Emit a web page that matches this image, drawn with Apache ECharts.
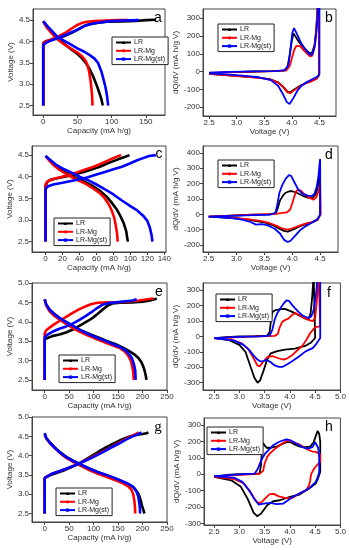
<!DOCTYPE html>
<html><head><meta charset="utf-8">
<script src="https://cdn.jsdelivr.net/npm/echarts@6/dist/echarts.min.js"></script>
<style>html,body{margin:0;padding:0;background:#fff}#c{width:349px;height:550px}</style>
</head><body><div id="c"></div>
<script>
// ---------- DATA ----------
const names = ['LR', 'LR-Mg', 'LR-Mg(st)'];

// panel a : capacity (mA h/g) vs voltage (V)
const a_LR_chg = [[0,2.5],[0,3.96],[3,4.0],[10,4.03],[20,4.07],[30,4.12],[40,4.19],[50,4.27],[58,4.35],[66,4.4],[75,4.43],[93,4.46],[115,4.47],[135,4.48],[150,4.5],[165,4.51]];
const a_LRMg_chg = [[0,2.5],[0,3.97],[5,4.01],[15,4.07],[25,4.14],[34,4.22],[42,4.31],[49,4.38],[56,4.43],[64,4.46],[75,4.48],[90,4.49],[110,4.5],[125,4.5]];
const a_LRMgst_chg = [[0,2.5],[0,3.92],[5,3.98],[14,4.04],[24,4.1],[35,4.17],[45,4.24],[53,4.3],[60,4.36],[70,4.41],[80,4.44],[95,4.47],[115,4.49],[140,4.5]];
const a_LR_dis = [[0,4.46],[5,4.35],[10,4.25],[17,4.13],[25,4.02],[34,3.9],[42,3.8],[50,3.71],[57,3.6],[63,3.48],[68,3.35],[73,3.18],[78,2.98],[82,2.8],[85,2.65],[87,2.5]];
const a_LRMg_dis = [[0,4.47],[5,4.33],[12,4.2],[20,4.06],[30,3.94],[40,3.84],[50,3.74],[57,3.65],[62,3.55],[65,3.43],[67,3.3],[69,3.1],[70.5,2.9],[71.5,2.7],[72,2.5]];
const a_LRMgst_dis = [[0,4.48],[6,4.36],[13,4.24],[20,4.12],[30,4.02],[40,3.93],[50,3.84],[60,3.76],[68,3.68],[75,3.6],[80,3.5],[85,3.3],[88,3.12],[91,2.93],[93,2.75],[95,2.5]];

// panel b : dQ/dV vs voltage
const b_LR = [[2.5,-10],[2.8,-5],[3.2,-1],[3.6,2],[3.85,5],[3.92,25],[3.96,90],[4.0,175],[4.03,215],[4.06,205],[4.1,180],[4.15,158],[4.2,140],[4.27,118],[4.33,102],[4.37,108],[4.41,150],[4.44,230],[4.47,380],[4.49,400],[4.49,-20],[4.45,-38],[4.35,-52],[4.25,-64],[4.15,-80],[4.05,-100],[3.97,-117],[3.92,-113],[3.85,-88],[3.75,-60],[3.6,-43],[3.4,-34],[3.0,-24],[2.5,-13]];
const b_LRMg = [[2.5,-8],[2.9,-3],[3.3,0],[3.7,3],[3.9,6],[3.96,30],[4.0,75],[4.04,120],[4.08,145],[4.11,150],[4.15,143],[4.2,125],[4.27,102],[4.33,86],[4.37,90],[4.41,135],[4.44,220],[4.47,380],[4.49,400],[4.49,-22],[4.45,-40],[4.35,-55],[4.25,-67],[4.15,-82],[4.05,-103],[3.97,-122],[3.92,-117],[3.85,-90],[3.75,-62],[3.6,-44],[3.4,-35],[3.0,-25],[2.5,-13]];
const b_LRMgst = [[2.5,-6],[2.9,-2],[3.3,1],[3.7,3],[3.88,8],[3.94,40],[3.98,140],[4.01,220],[4.04,245],[4.07,235],[4.11,200],[4.16,165],[4.22,135],[4.28,110],[4.34,93],[4.38,100],[4.42,150],[4.45,240],[4.48,380],[4.5,400],[4.5,-15],[4.46,-30],[4.38,-42],[4.28,-58],[4.18,-78],[4.1,-108],[4.03,-148],[3.96,-183],[3.91,-172],[3.84,-128],[3.75,-80],[3.62,-48],[3.4,-32],[3.0,-20],[2.5,-10]];

// panel c
const c_LR_chg = [[0,2.5],[0,3.78],[2,3.88],[6,3.93],[15,3.97],[25,4.01],[35,4.06],[45,4.11],[55,4.17],[64,4.23],[72,4.3],[80,4.36],[88,4.42],[94,4.46],[99,4.5]];
const c_LRMg_chg = [[0,2.5],[0,3.82],[2,3.89],[8,3.94],[17,3.99],[27,4.04],[37,4.1],[46,4.16],[55,4.22],[64,4.29],[72,4.36],[79,4.42],[85,4.47],[89,4.5]];
const c_LRMgst_chg = [[0,2.5],[0,3.72],[3,3.78],[9,3.82],[20,3.86],[30,3.9],[40,3.94],[50,3.99],[60,4.05],[70,4.11],[80,4.17],[90,4.23],[100,4.31],[108,4.38],[115,4.43],[122,4.48],[130,4.5]];
const c_LR_dis = [[0,4.48],[5,4.38],[10,4.27],[17,4.17],[25,4.08],[35,3.98],[45,3.89],[56,3.78],[65,3.66],[72,3.54],[78,3.4],[84,3.24],[88,3.1],[92,2.93],[95,2.75],[97,2.5]];
const c_LRMg_dis = [[0,4.48],[5,4.36],[10,4.26],[17,4.15],[26,4.04],[37,3.93],[48,3.83],[57,3.72],[64,3.62],[69,3.52],[74,3.38],[78,3.22],[81,3.05],[83,2.85],[84.5,2.65],[85,2.5]];
const c_LRMgst_dis = [[0,4.48],[6,4.38],[12,4.28],[20,4.19],[30,4.1],[40,4.0],[50,3.92],[60,3.82],[70,3.71],[80,3.59],[90,3.45],[100,3.32],[108,3.22],[115,3.1],[120,2.98],[123,2.82],[125,2.65],[126,2.5]];

// panel d
const d_LR = [[2.5,-15],[2.9,-8],[3.3,-3],[3.6,0],[3.7,5],[3.74,40],[3.78,90],[3.83,120],[3.88,140],[3.95,150],[4.0,150],[4.08,140],[4.18,122],[4.28,108],[4.36,105],[4.42,130],[4.46,180],[4.49,280],[4.5,300],[4.5,0],[4.46,-35],[4.38,-50],[4.25,-62],[4.12,-80],[4.0,-102],[3.92,-112],[3.85,-108],[3.75,-90],[3.65,-70],[3.5,-52],[3.35,-45],[3.2,-35],[3.0,-25],[2.7,-18],[2.5,-15]];
const d_LRMg = [[2.5,-15],[2.9,-8],[3.3,-2],[3.7,3],[3.9,12],[3.96,30],[4.0,70],[4.04,120],[4.08,155],[4.11,165],[4.15,155],[4.22,130],[4.3,110],[4.38,95],[4.43,110],[4.47,150],[4.5,200],[4.51,200],[4.51,0],[4.45,-35],[4.35,-50],[4.22,-62],[4.1,-78],[3.98,-94],[3.9,-100],[3.82,-92],[3.72,-75],[3.6,-58],[3.45,-45],[3.2,-32],[2.8,-20],[2.5,-15]];
const d_LRMgst = [[2.5,-15],[2.9,-10],[3.3,-5],[3.6,-2],[3.7,10],[3.73,60],[3.77,140],[3.82,190],[3.88,230],[3.94,255],[3.98,250],[4.03,215],[4.1,165],[4.18,135],[4.28,122],[4.35,118],[4.4,135],[4.44,180],[4.47,250],[4.49,330],[4.5,360],[4.5,-5],[4.45,-30],[4.35,-55],[4.25,-75],[4.15,-100],[4.05,-140],[3.97,-172],[3.92,-180],[3.86,-168],[3.78,-125],[3.68,-92],[3.55,-70],[3.45,-64],[3.35,-67],[3.25,-50],[3.1,-35],[2.9,-25],[2.5,-15]];

// panel e
const e_LR_chg = [[0,2.5],[0,3.55],[3,3.6],[15,3.63],[30,3.67],[45,3.73],[57,3.8],[67,3.87],[77,3.94],[88,4.02],[98,4.1],[108,4.2],[118,4.31],[128,4.41],[138,4.47],[155,4.49],[178,4.5],[200,4.52],[215,4.55],[225,4.58],[229,4.6]];
const e_LRMg_chg = [[0,2.5],[0,3.7],[3,3.78],[10,3.85],[20,3.94],[30,4.02],[43,4.12],[57,4.23],[70,4.32],[84,4.4],[96,4.46],[108,4.49],[130,4.5],[160,4.51],[192,4.55],[210,4.58],[222,4.6]];
const e_LRMgst_chg = [[0,2.5],[0,3.6],[5,3.66],[17,3.75],[30,3.82],[44,3.88],[58,3.96],[71,4.05],[85,4.16],[98,4.27],[108,4.36],[118,4.44],[130,4.48],[145,4.5],[165,4.53],[180,4.55],[188,4.58]];
const e_LR_dis = [[0,4.57],[3,4.45],[10,4.31],[20,4.2],[30,4.1],[40,4.02],[50,3.95],[63,3.85],[77,3.76],[94,3.67],[111,3.59],[128,3.5],[145,3.42],[160,3.33],[172,3.25],[183,3.16],[192,3.06],[198,2.95],[202,2.83],[205,2.7],[207,2.58],[208,2.5]];
const e_LRMg_dis = [[0,4.58],[3,4.42],[10,4.27],[20,4.15],[30,4.06],[43,3.95],[57,3.84],[74,3.73],[91,3.63],[108,3.54],[125,3.46],[140,3.39],[152,3.33],[162,3.25],[170,3.14],[176,3.0],[179,2.85],[181,2.7],[182,2.5]];
const e_LRMgst_dis = [[0,4.58],[3,4.45],[10,4.31],[20,4.19],[30,4.1],[43,4.0],[57,3.9],[74,3.78],[91,3.67],[108,3.58],[125,3.5],[140,3.42],[152,3.36],[162,3.29],[170,3.2],[178,3.07],[182,2.92],[185,2.75],[186,2.5]];

// panel f
const f_LR = [[2.5,-12],[2.75,-5],[3.0,0],[3.3,2],[3.55,4],[3.6,30],[3.63,120],[3.66,160],[3.72,170],[3.8,175],[3.9,178],[4.0,165],[4.1,150],[4.2,132],[4.3,115],[4.37,110],[4.41,150],[4.44,250],[4.47,400],[4.5,400],[4.5,-10],[4.42,-40],[4.3,-62],[4.1,-80],[3.9,-86],[3.75,-95],[3.62,-110],[3.55,-150],[3.48,-220],[3.41,-285],[3.36,-300],[3.3,-270],[3.22,-195],[3.12,-100],[3.0,-55],[2.8,-25],[2.5,-12]];
const f_LRMg = [[2.5,-12],[3.0,-5],[3.4,0],[3.7,3],[3.76,15],[3.8,60],[3.85,95],[3.9,105],[3.97,115],[4.05,140],[4.1,150],[4.15,145],[4.25,125],[4.35,108],[4.45,98],[4.5,120],[4.54,250],[4.57,400],[4.6,400],[4.6,65],[4.5,60],[4.4,20],[4.33,-20],[4.25,-60],[4.15,-90],[4.05,-120],[3.95,-142],[3.87,-150],[3.76,-140],[3.65,-128],[3.55,-135],[3.47,-165],[3.4,-195],[3.35,-185],[3.28,-140],[3.18,-85],[3.05,-45],[2.85,-22],[2.5,-12]];
const f_LRMgst = [[2.5,-12],[3.0,-4],[3.4,0],[3.6,5],[3.65,40],[3.7,110],[3.75,150],[3.8,175],[3.87,210],[3.93,232],[3.98,230],[4.05,200],[4.15,165],[4.25,135],[4.35,120],[4.42,128],[4.47,170],[4.52,280],[4.55,400],[4.6,400],[4.6,-10],[4.52,-50],[4.45,-76],[4.31,-97],[4.18,-130],[4.05,-160],[3.95,-180],[3.85,-198],[3.78,-198],[3.7,-188],[3.62,-168],[3.54,-152],[3.47,-160],[3.42,-162],[3.35,-148],[3.27,-120],[3.19,-86],[3.08,-55],[2.9,-28],[2.5,-11]];

// panel g
const g_LR_chg = [[0,2.5],[0,3.42],[3,3.46],[12,3.5],[24,3.55],[40,3.62],[58,3.72],[75,3.83],[92,3.96],[110,4.1],[126,4.22],[143,4.33],[160,4.43],[175,4.5],[190,4.54],[200,4.56],[208,4.58],[212,4.6]];
const g_LRMg_chg = [[0,2.5],[0,3.42],[3,3.47],[15,3.53],[31,3.6],[48,3.68],[65,3.77],[82,3.87],[99,3.98],[116,4.09],[133,4.2],[150,4.32],[167,4.44],[180,4.52],[188,4.57],[192,4.6]];
const g_LRMgst_chg = [[0,2.5],[0,3.42],[3,3.47],[15,3.53],[31,3.6],[48,3.68],[65,3.76],[82,3.86],[99,3.96],[116,4.07],[133,4.19],[150,4.3],[167,4.42],[182,4.51],[192,4.56],[198,4.6]];
const g_LR_dis = [[0,4.55],[3,4.45],[10,4.35],[20,4.22],[31,4.09],[44,3.97],[58,3.87],[75,3.76],[92,3.66],[109,3.57],[126,3.49],[143,3.41],[160,3.32],[172,3.25],[181,3.18],[187,3.1],[192,3.0],[196,2.85],[199,2.7],[202,2.58],[204,2.5]];
const g_LRMg_dis = [[0,4.58],[3,4.45],[10,4.33],[20,4.2],[31,4.07],[44,3.94],[58,3.84],[75,3.73],[92,3.62],[109,3.53],[126,3.45],[143,3.37],[160,3.28],[170,3.21],[177,3.12],[181,3.0],[183,2.85],[184.5,2.68],[185,2.5]];
const g_LRMgst_dis = [[0,4.58],[3,4.46],[10,4.34],[20,4.21],[31,4.08],[44,3.96],[58,3.86],[75,3.76],[92,3.66],[109,3.57],[126,3.5],[143,3.42],[160,3.33],[172,3.26],[181,3.19],[187,3.08],[191,2.95],[193,2.8],[194.5,2.65],[195,2.5]];

// panel h
const h_LR = [[2.5,-15],[2.75,-5],[3.0,0],[3.3,2],[3.4,5],[3.43,60],[3.45,170],[3.47,190],[3.5,175],[3.55,160],[3.65,163],[3.75,170],[3.85,185],[3.95,197],[4.02,195],[4.1,180],[4.2,168],[4.3,165],[4.4,168],[4.47,195],[4.52,240],[4.55,265],[4.58,245],[4.6,200],[4.6,14],[4.55,-30],[4.51,-57],[4.38,-87],[4.19,-124],[4.0,-138],[3.8,-159],[3.67,-165],[3.55,-189],[3.43,-240],[3.35,-256],[3.28,-235],[3.22,-190],[3.16,-148],[3.03,-77],[2.84,-37],[2.5,-16]];
const h_LRMg = [[2.5,-15],[2.8,-8],[3.1,-2],[3.4,2],[3.47,20],[3.5,65],[3.55,106],[3.6,125],[3.67,146],[3.77,170],[3.87,190],[3.95,205],[4.03,200],[4.12,188],[4.2,180],[4.3,160],[4.38,146],[4.45,138],[4.51,136],[4.56,128],[4.6,120],[4.6,75],[4.55,60],[4.48,35],[4.42,0],[4.4,-40],[4.38,-67],[4.32,-98],[4.19,-118],[4.03,-148],[3.9,-144],[3.78,-135],[3.68,-120],[3.6,-122],[3.52,-145],[3.45,-168],[3.38,-178],[3.32,-160],[3.22,-108],[3.09,-57],[2.9,-30],[2.5,-16]];
const h_LRMgst = [[2.5,-12],[2.8,-5],[3.1,0],[3.3,3],[3.36,30],[3.4,60],[3.44,90],[3.51,126],[3.6,155],[3.67,177],[3.77,195],[3.87,207],[3.93,213],[4.0,208],[4.13,187],[4.25,165],[4.32,157],[4.4,160],[4.45,167],[4.5,195],[4.53,198],[4.56,160],[4.58,100],[4.58,14],[4.55,-20],[4.51,-47],[4.38,-87],[4.25,-108],[4.06,-138],[3.87,-179],[3.74,-183],[3.61,-175],[3.48,-179],[3.38,-185],[3.29,-148],[3.19,-98],[3.06,-47],[2.9,-22],[2.5,-12]];

// tick values
const capTicksA = [0, 50, 100, 150];
const capTicksC = [0, 20, 40, 60, 80, 100, 120, 140];
const capTicksE = [0, 50, 100, 150, 200, 250];
const voltTicks45 = [2.5, 3.0, 3.5, 4.0, 4.5];
const voltTicks50 = [2.5, 3.0, 3.5, 4.0, 4.5, 5.0];
const dqTicksB = [-200, -100, 0, 100, 200, 300];
const dqTicksD = [-200, -100, 0, 100, 200, 300, 400];
const dqTicksF = [-300, -200, -100, 0, 100, 200, 300];

// ---------- LAYOUT / STYLE ----------
const colors = ['#000000', '#ff0000', '#0000ff'];
const symbols = ['triangle', 'circle', 'rect'];
const CAP = 'Capacity (mA h/g)', VOLT = 'Voltage (V)', DQ = 'dQ/dV (mA h/g V)';

const panels = [
  {L:'a', cap:true, g:[33,9,132,106], x:[-15,178], y:[2.28,4.76], xt:capTicksA, yt:voltTicks45,
   s:[[a_LR_chg,a_LR_dis],[a_LRMg_chg,a_LRMg_dis],[a_LRMgst_chg,a_LRMgst_dis]], lg:[112,37], lt:[158,18]},
  {L:'b', cap:false, g:[203,9,133,107], x:[2.39,4.8], y:[-250,352], xt:voltTicks45, yt:dqTicksB,
   s:[[b_LR],[b_LRMg],[b_LRMgst]], lg:[218,24], lt:[329,18]},
  {L:'c', cap:true, g:[32,146,134,106], x:[-16,142], y:[2.26,4.71], xt:capTicksC, yt:voltTicks45,
   s:[[c_LR_chg,c_LR_dis],[c_LRMg_chg,c_LRMg_dis],[c_LRMgst_chg,c_LRMgst_dis]], lg:[54,218], lt:[159,154]},
  {L:'d', cap:false, g:[203,146,135,106], x:[2.4,4.82], y:[-245,444], xt:voltTicks45, yt:dqTicksD,
   s:[[d_LR],[d_LRMg],[d_LRMgst]], lg:[218,160], lt:[329,155]},
  {L:'e', cap:true, g:[32,283,135,107], x:[-26,250], y:[2.24,5.0], xt:capTicksE, yt:voltTicks50,
   s:[[e_LR_chg,e_LR_dis],[e_LRMg_chg,e_LRMg_dis],[e_LRMgst_chg,e_LRMgst_dis]], lg:[59,355], lt:[159,292]},
  {L:'f', cap:false, g:[203,283,139,107], x:[2.28,5.0], y:[-347,345], xt:voltTicks50, yt:dqTicksF,
   s:[[f_LR],[f_LRMg],[f_LRMgst]], lg:[216,294], lt:[329,293]},
  {L:'g', cap:true, g:[32,417,135,105], x:[-26,250], y:[2.28,5.0], xt:capTicksE, yt:voltTicks50,
   s:[[g_LR_chg,g_LR_dis],[g_LRMg_chg,g_LRMg_dis],[g_LRMgst_chg,g_LRMgst_dis]], lg:[56,488], lt:[158,427], serif:true},
  {L:'h', cap:false, g:[204,418,138,107], x:[2.3,5.0], y:[-310,343], xt:voltTicks50, yt:dqTicksF,
   s:[[h_LR],[h_LRMg],[h_LRMgst]], lg:[207,427], lt:[329,427]}
];

const AX = '#444', TX = '#333', FONT = 'Liberation Sans, Arial, sans-serif';
const grid = [], xAxis = [], yAxis = [], series = [], legend = [], graphic = [];
const f1 = v => (+v).toFixed(1), f0 = v => String(Math.round(v));

panels.forEach((p, i) => {
  grid.push({left:p.g[0], top:p.g[1], width:p.g[2], height:p.g[3], show:true, borderColor:AX, borderWidth:1, backgroundColor:'transparent'});
  const common = {
    type:'value', gridIndex:i, splitLine:{show:false},
    axisLine:{show:true, onZero:false, lineStyle:{color:AX, width:1}},
    nameLocation:'middle', nameTextStyle:{fontSize:8, color:TX, fontFamily:FONT}
  };
  xAxis.push(Object.assign({}, common, {
    min:p.x[0], max:p.x[1], name:p.cap ? CAP : VOLT, nameGap:11,
    axisTick:{show:true, length:3, customValues:p.xt, lineStyle:{color:AX}},
    axisLabel:{customValues:p.xt, fontSize:8, color:TX, margin:3, fontFamily:FONT, formatter:p.cap ? f0 : f1}
  }));
  yAxis.push(Object.assign({}, common, {
    min:p.y[0], max:p.y[1], name:p.cap ? VOLT : DQ, nameGap:p.cap ? 13 : 16,
    axisTick:{show:true, length:3, customValues:p.yt, lineStyle:{color:AX}},
    axisLabel:{customValues:p.yt, fontSize:8, color:TX, margin:3, fontFamily:FONT, formatter:p.cap ? f1 : f0}
  }));
  p.s.forEach((arrs, k) => {
    arrs.forEach(d => {
      series.push({
        type:'line', name:names[k], xAxisIndex:i, yAxisIndex:i, data:d,
        symbol:symbols[k], symbolSize:4, showSymbol:false, clip:true,
        lineStyle:{color:colors[k], width:p.cap ? 2.6 : 1.8},
        itemStyle:{color:colors[k]}, z:2 + k
      });
    });
  });
  legend.push({
    data:names, left:p.lg[0], top:p.lg[1], orient:'vertical',
    itemWidth:15, itemHeight:4, itemGap:1.3, padding:[2,3,2,3],
    borderColor:'#222', borderWidth:1, backgroundColor:'#fff',
    textStyle:{fontSize:7, color:'#222', fontFamily:FONT, lineHeight:7, padding:[0,0,0,-2]},
    selectedMode:false
  });
  graphic.push({type:'text', x:p.lt[0], y:p.lt[1], z:100,
    style:{text:p.L, fill:'#000', font:(p.serif ? '15px "Liberation Serif", serif' : '14px ' + FONT), align:'center', verticalAlign:'middle'}});
});

const chart = echarts.init(document.getElementById('c'), null, {renderer:'canvas'});
chart.setOption({animation:false, backgroundColor:'#fff', grid, xAxis, yAxis, series, legend, graphic});
</script>
</body></html>
